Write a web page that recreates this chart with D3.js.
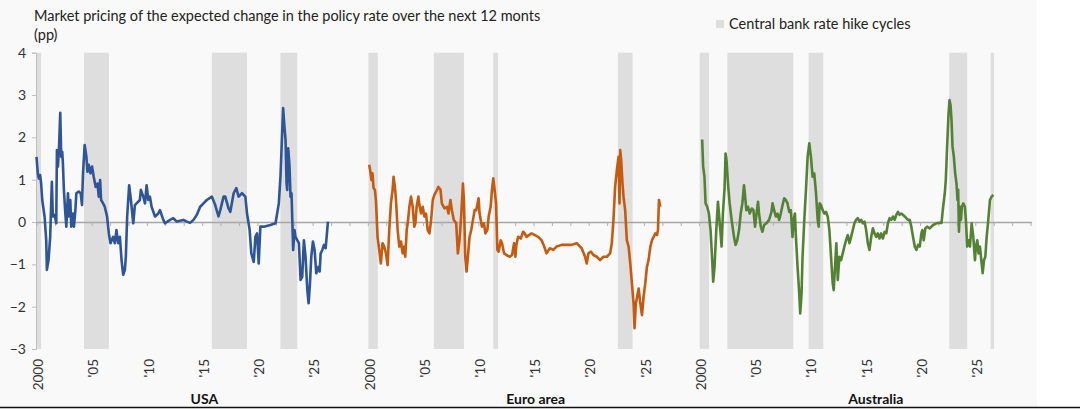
<!DOCTYPE html>
<html>

<head>
  <meta charset="utf-8">
  <title>Market pricing of expected policy rate change</title>
  <style>
    body { margin: 0; background: #fff; }
    svg { display: block; font-family: Lato, "Open Sans", sans-serif; }
  </style>
</head>

<body>
  <svg width="1080" height="409"></svg>
  <script src="https://d3js.org/d3.v7.min.js"></script>
  <script>
    // 1. data: [years since Jan 2000, pp]
    var panels = ["USA", "Euro area", "Australia"];
    var yearLabels = ["2000", "'05", "'10", "'15", "'20", "'25"];
    var yTicks = [-3, -2, -1, 0, 1, 2, 3, 4];

    var usa = [[0,1.54],[0.12,1.15],[0.21,1.03],[0.33,1.11],[0.42,0.91],[0.52,0.52],[0.73,0.13],[0.88,-0.43],[0.94,-1.13],[1.09,-0.9],[1.24,-0.35],[1.39,0.95],[1.48,0.13],[1.64,0.17],[1.79,-0.03],[1.85,1.7],[1.94,1.31],[2.03,1.7],[2.15,2.58],[2.24,1.54],[2.33,1.66],[2.39,1.39],[2.48,0.76],[2.61,0.2],[2.7,-0.11],[2.85,0.68],[2.94,0.13],[3.06,0.52],[3.15,-0.11],[3.3,0.2],[3.39,-0.11],[3.52,0.28],[3.61,0.68],[3.82,0.72],[4,0.68],[4.12,0.4],[4.21,1.15],[4.36,1.82],[4.52,1.54],[4.61,1.19],[4.73,1.35],[4.88,1.15],[5.03,1.31],[5.18,1.07],[5.36,0.83],[5.52,0.91],[5.64,0.6],[5.76,0.99],[5.85,0.52],[6.03,0.44],[6.18,0.36],[6.39,0.13],[6.55,-0.27],[6.7,-0.5],[6.94,-0.35],[7.09,-0.5],[7.24,-0.19],[7.39,-0.5],[7.55,-0.35],[7.7,-0.9],[7.85,-1.25],[8,-1.13],[8.09,-0.82],[8.21,0.13],[8.39,0.87],[8.55,0.52],[8.76,-0.03],[8.91,0.4],[9.06,0.44],[9.36,0.52],[9.45,0.76],[9.67,0.6],[9.82,0.44],[9.97,0.87],[10.12,0.52],[10.27,0.6],[10.42,0.36],[10.73,0.13],[11.03,0.2],[11.18,0.28],[11.48,0.05],[11.64,-0.03],[12.09,0.05],[12.39,0.09],[12.7,0.01],[13.3,0.05],[13.61,0.01],[13.91,-0.02],[14.21,0.05],[14.52,0.17],[14.82,0.36],[15.12,0.44],[15.42,0.52],[15.88,0.6],[16.18,0.4],[16.48,0.13],[16.64,0.28],[16.94,0.6],[17.09,0.6],[17.39,0.32],[17.55,0.24],[17.85,0.68],[18.09,0.8],[18.3,0.6],[18.61,0.68],[18.91,0.6],[19.06,0.2],[19.3,-0.19],[19.45,-0.74],[19.67,-0.94],[19.82,-0.35],[19.97,-0.27],[20.12,-0.98],[20.27,-0.11],[20.58,-0.11],[21.18,-0.07],[21.64,-0.03],[21.79,0.2],[21.94,0.44],[22.09,1.07],[22.24,2.09],[22.33,2.69],[22.45,2.25],[22.55,1.94],[22.64,0.91],[22.7,0.76],[22.79,1.74],[22.91,1.31],[23,0.6],[23.09,0.68],[23.24,-0.66],[23.36,-0.19],[23.45,-0.35],[23.61,-0.43],[23.76,-0.5],[23.91,-1.37],[24.06,-1.29],[24.21,-0.43],[24.36,-0.82],[24.52,-1.61],[24.64,-1.92],[24.76,-1.45],[24.88,-0.82],[25.03,-0.46],[25.18,-0.66],[25.33,-1.21],[25.52,-1.06],[25.64,-1.17],[25.73,-0.74],[25.88,-0.66],[26.03,-0.54],[26.18,-0.62],[26.27,-0.35],[26.39,0.01]];

    var euro = [[0.12,1.35],[0.21,1.23],[0.33,0.99],[0.42,1.15],[0.52,0.8],[0.64,0.76],[0.73,0.52],[0.88,-0.35],[1.03,-0.66],[1.18,-0.98],[1.33,-0.5],[1.48,-0.58],[1.64,-0.74],[1.79,-1.02],[1.94,-0.19],[2.09,0.44],[2.24,0.76],[2.33,1.07],[2.45,0.83],[2.55,0.52],[2.7,-0.19],[2.85,-0.58],[3,-0.46],[3.15,-0.74],[3.3,-0.58],[3.39,-0.82],[3.52,-0.19],[3.61,-0.03],[3.76,0.36],[3.91,0.6],[4.06,0.36],[4.21,-0.11],[4.3,-0.03],[4.42,0.36],[4.58,0.6],[4.67,0.4],[4.82,0.2],[4.97,0.36],[5.12,0.13],[5.27,0.2],[5.42,-0.19],[5.58,-0.27],[5.73,0.05],[5.88,0.52],[6.03,0.64],[6.27,0.76],[6.39,0.83],[6.58,0.76],[6.7,0.44],[6.94,0.32],[7.18,0.36],[7.3,0.2],[7.48,0.52],[7.61,0.28],[7.79,0.05],[8,-0.03],[8.15,-0.74],[8.3,-0.43],[8.45,0.13],[8.61,0.91],[8.7,0.52],[8.82,-0.82],[8.94,-1.17],[9.06,-0.82],[9.21,-0.35],[9.36,-0.19],[9.52,0.05],[9.67,0.28],[9.82,0.28],[10.03,0.56],[10.12,0.2],[10.33,-0.11],[10.52,-0.03],[10.64,-0.27],[10.82,-0.19],[10.94,0.13],[11.12,0.36],[11.24,0.76],[11.36,1.03],[11.48,0.76],[11.61,0.44],[11.73,-0.66],[11.85,-0.7],[12.03,-0.43],[12.15,-0.5],[12.33,-0.74],[12.55,-0.78],[12.85,-0.82],[13.06,-0.78],[13.24,-0.5],[13.36,-0.82],[13.45,-0.54],[13.61,-0.35],[13.85,-0.39],[14.06,-0.23],[14.21,-0.27],[14.36,-0.35],[14.82,-0.27],[15.12,-0.31],[15.42,-0.35],[15.73,-0.43],[15.97,-0.58],[16.18,-0.74],[16.48,-0.62],[16.79,-0.66],[17.09,-0.58],[17.55,-0.54],[18,-0.54],[18.45,-0.54],[18.91,-0.5],[19.36,-0.62],[19.67,-0.82],[19.82,-0.98],[19.97,-0.74],[20.21,-0.7],[20.42,-0.78],[20.73,-0.82],[21.03,-0.9],[21.33,-0.82],[21.64,-0.82],[21.94,-0.74],[22.09,-0.5],[22.24,0.05],[22.39,0.83],[22.55,1.23],[22.7,1.54],[22.79,0.44],[22.85,1.7],[22.94,1.46],[23.06,0.91],[23.15,0.6],[23.3,0.28],[23.45,-0.43],[23.61,-0.58],[23.76,-0.98],[23.91,-1.45],[24.06,-1.92],[24.15,-2.51],[24.27,-1.92],[24.39,-1.76],[24.52,-1.57],[24.67,-1.92],[24.82,-2.2],[24.97,-1.76],[25.12,-1.45],[25.27,-1.06],[25.42,-0.9],[25.58,-0.58],[25.73,-0.43],[25.88,-0.35],[26.03,-0.27],[26.18,-0.31],[26.27,-0.19],[26.36,0.52],[26.48,0.36]];

    var aus = [[0.27,1.95],[0.36,1.31],[0.48,1.07],[0.58,0.44],[0.73,0.36],[0.88,0.2],[1.03,-0.19],[1.18,-0.9],[1.27,-1.41],[1.39,-1.06],[1.55,-0.19],[1.7,0.48],[1.79,0.2],[1.94,-0.27],[2.03,-0.58],[2.15,0.2],[2.3,0.8],[2.39,1.62],[2.48,1.46],[2.61,0.91],[2.76,0.44],[2.94,0.05],[3.15,-0.35],[3.3,-0.54],[3.45,-0.43],[3.61,-0.19],[3.76,0.2],[3.91,0.44],[4.06,0.87],[4.15,0.64],[4.27,0.28],[4.42,0.36],[4.58,0.2],[4.76,0.32],[4.91,0.28],[5.06,-0.11],[5.21,0.24],[5.33,0.48],[5.42,0.2],[5.58,-0.11],[5.73,-0.23],[5.88,-0.07],[6.09,-0.03],[6.33,0.05],[6.55,0.24],[6.64,0.44],[6.79,0.28],[6.94,0.13],[7.09,0.2],[7.24,0.05],[7.39,0.2],[7.55,0.4],[7.7,0.56],[7.85,0.52],[8,0.44],[8.15,0.24],[8.3,0.28],[8.45,-0.35],[8.55,0.05],[8.67,0.2],[8.76,-0.35],[8.91,-1.06],[9.06,-1.69],[9.15,-2.16],[9.27,-1.69],[9.36,-0.82],[9.52,0.05],[9.67,0.76],[9.82,1.54],[9.97,1.86],[10.12,1.54],[10.27,1.07],[10.42,1.15],[10.58,0.68],[10.73,0.05],[10.82,-0.11],[10.91,0.44],[11.03,0.4],[11.18,0.28],[11.33,0.2],[11.48,0.24],[11.64,0.13],[11.79,-0.19],[11.94,-0.82],[12.09,-1.45],[12.18,-1.61],[12.3,-1.06],[12.42,-0.5],[12.55,-1.37],[12.7,-0.82],[12.85,-0.9],[13,-0.74],[13.15,-0.58],[13.3,-0.43],[13.45,-0.31],[13.61,-0.5],[13.76,-0.35],[13.91,-0.19],[14.06,-0.03],[14.21,0.05],[14.36,0.09],[14.52,0.01],[14.67,0.05],[14.82,-0.03],[14.97,0.01],[15.12,-0.19],[15.27,-0.5],[15.42,-0.66],[15.58,-0.35],[15.73,-0.15],[15.88,-0.27],[16.03,-0.35],[16.18,-0.27],[16.33,-0.39],[16.48,-0.27],[16.64,-0.39],[16.79,-0.23],[16.94,-0.27],[17.09,-0.03],[17.24,0.09],[17.39,0.05],[17.55,0.13],[17.7,0.05],[17.85,0.17],[18,0.24],[18.15,0.17],[18.3,0.2],[18.45,0.17],[18.61,0.13],[18.76,0.09],[18.91,0.05],[19.06,0.05],[19.21,-0.11],[19.36,-0.35],[19.52,-0.58],[19.67,-0.66],[19.82,-0.54],[19.97,-0.58],[20.12,-0.27],[20.21,-0.19],[20.33,-0.43],[20.48,-0.15],[20.64,-0.11],[20.88,-0.15],[21.03,-0.11],[21.18,-0.07],[21.48,-0.03],[21.79,-0.02],[21.94,-0.02],[22.09,0.36],[22.24,0.68],[22.33,0.99],[22.45,1.78],[22.58,2.57],[22.67,2.88],[22.76,2.76],[22.85,2.41],[22.94,1.78],[23.06,1.54],[23.18,1.15],[23.3,0.91],[23.39,0.52],[23.45,0.76],[23.52,-0.23],[23.61,0.36],[23.7,0.05],[23.79,0.36],[23.91,0.44],[24.06,0.36],[24.15,0.05],[24.27,-0.58],[24.39,-0.43],[24.52,-0.58],[24.67,-0.03],[24.82,-0.35],[24.97,-0.9],[25.06,-0.58],[25.18,-0.43],[25.3,-0.74],[25.42,-0.58],[25.58,-0.98],[25.67,-1.21],[25.79,-0.9],[25.91,-0.82],[26.03,-0.35],[26.15,-0.03],[26.33,0.52],[26.48,0.6],[26.64,0.64]];

    // hike cycles, [start, end] in years since Jan 2000
    var usaHikes = [[0, 0.42], [4.3, 6.55], [15.88, 19.06], [22.09, 23.61]];
    var euroHikes = [[0.05, 0.9], [5.97, 8.7], [11.36, 11.79], [22.64, 23.97]];
    var ausHikes = [[0.05, 0.9], [2.55, 8.52], [9.91, 11.24], [22.64, 24.27], [26.39, 26.7]];

    var series = [usa, euro, aus];
    var hikes = [usaHikes, euroHikes, ausHikes];
    var colors = ["#2f5597", "#c55a11", "#548235"];
    var panelYears = 30;

    // 2. scales
    var svg = d3.select("svg");
    var x = d3.scaleLinear().domain([0, panelYears * 3]).range([36.5, 1030.5]);
    var y = d3.scaleLinear().domain([-3, 4]).range([349, 52.7]);

    svg.append("rect").attr("width", 1037).attr("height", 407).attr("fill", "#f9f9f9");

    // shading
    hikes.forEach(function (list, p) {
      svg.append("g").selectAll("rect")
        .data(list)
        .enter()
        .append("rect")
        .attr("x", function (d) { return x(p * panelYears + d[0]); })
        .attr("width", function (d) { return x(d[1]) - x(d[0]); })
        .attr("y", y(4))
        .attr("height", y(-3) - y(4))
        .attr("fill", "#dedede");
    });

    // y axis
    var yAxis = d3.axisLeft(y).tickValues(yTicks).tickSize(4).tickFormat(d3.format("d"));
    var gy = svg.append("g").attr("transform", "translate(36,0)").call(yAxis);
    gy.selectAll("path, line").attr("stroke", "#bfbfbf");
    gy.selectAll("text").attr("font-size", 14).attr("fill", "#333").attr("x", -10)
      .attr("font-family", "Lato, sans-serif");

    // zero line with ticks every 20 months
    var xTicks = d3.range(0, panelYears * 3 + 0.01, 20 / 12);
    var xAxis = d3.axisBottom(x).tickValues(xTicks).tickSize(4).tickFormat("");
    var gx = svg.append("g").attr("transform", "translate(0," + y(0) + ")").call(xAxis);
    gx.select("path").attr("stroke", "#a6a6a6").attr("stroke-width", 1.5).attr("d", "M36," + 0.5 + "H" + 1032);
    gx.selectAll("line").attr("stroke", "#b0b0b0");

    // lines
    var line = d3.line()
      .x(function (d) { return x(d.p * panelYears + d.t); })
      .y(function (d) { return y(d.v); });

    series.forEach(function (s, p) {
      var pts = s.map(function (d) { return { p: p, t: d[0], v: d[1] }; });
      svg.append("path")
        .datum(pts)
        .attr("fill", "none")
        .attr("stroke", colors[p])
        .attr("stroke-width", 2.6)
        .attr("stroke-linejoin", "round")
        .attr("d", line);
    });

    // year labels
    panels.forEach(function (name, p) {
      svg.append("g").selectAll("text")
        .data(yearLabels)
        .enter()
        .append("text")
        .attr("transform", function (d, i) {
          return "translate(" + (x(p * panelYears + i * 5) + 2) + ",359) rotate(-90)";
        })
        .attr("dy", "0.35em")
        .attr("text-anchor", "end")
        .attr("font-size", 13.5)
        .attr("fill", "#333")
        .text(function (d) { return d; });
    });

    var panelLabelAt = [15.2, 15.2, 16];
    svg.append("g").selectAll("text")
      .data(panels)
      .enter()
      .append("text")
      .attr("x", function (d, p) { return x(p * panelYears + panelLabelAt[p]); })
      .attr("y", 404)
      .attr("text-anchor", "middle")
      .attr("font-size", 14)
      .attr("font-weight", "bold")
      .attr("fill", "#111")
      .text(function (d) { return d; });

    // title and legend
    svg.append("text").attr("x", 34).attr("y", 21).attr("font-size", 14.5).attr("fill", "#222")
      .text("Market pricing of the expected change in the policy rate over the next 12 monts");
    svg.append("text").attr("x", 34).attr("y", 40).attr("font-size", 14.5).attr("fill", "#222")
      .text("(pp)");

    svg.append("rect").attr("x", 716).attr("y", 20).attr("width", 8).attr("height", 8).attr("fill", "#dedede");
    svg.append("text").attr("x", 729).attr("y", 29).attr("font-size", 14.5).attr("fill", "#222")
      .text("Central bank rate hike cycles");

    // bottom border
    svg.append("line").attr("x1", 0).attr("x2", 1080).attr("y1", 407.5).attr("y2", 407.5)
      .attr("stroke", "#111").attr("stroke-width", 1.5);
  </script>
</body>

</html>
